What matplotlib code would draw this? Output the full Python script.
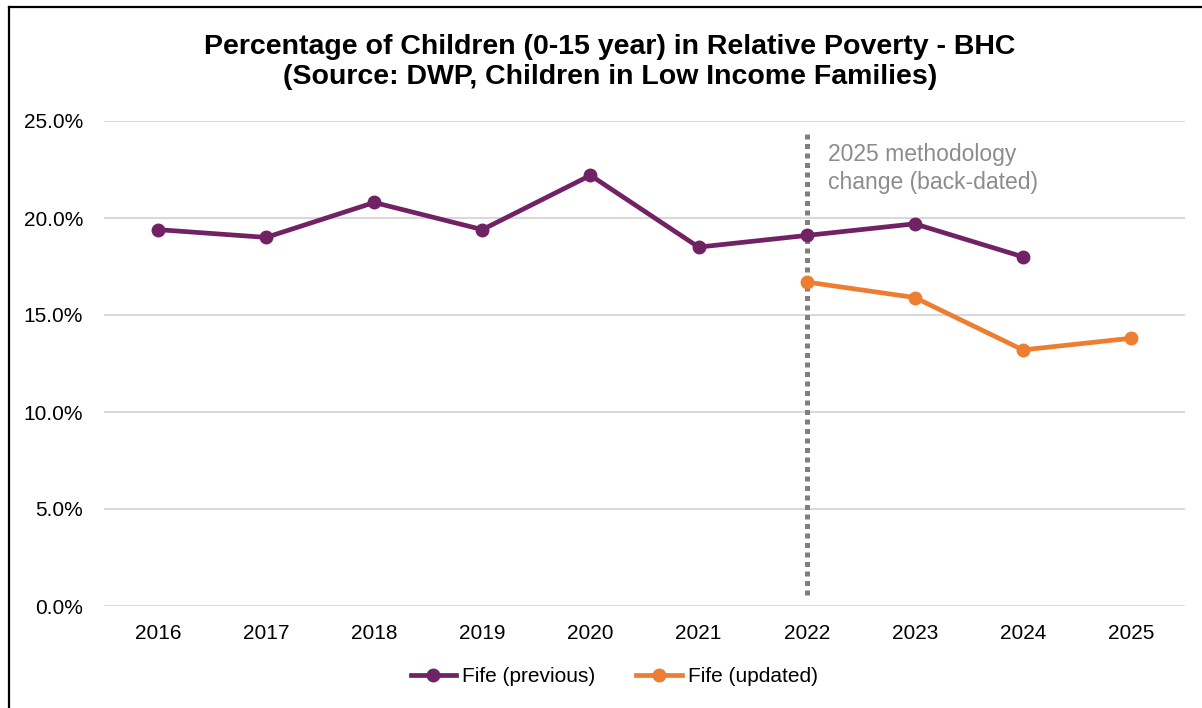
import matplotlib
matplotlib.use('Agg')
import matplotlib.pyplot as plt
from matplotlib.lines import Line2D
from matplotlib.ticker import PercentFormatter

plt.rcParams['font.family'] = ['Liberation Sans', 'DejaVu Sans']

# Data
years = ['2016', '2017', '2018', '2019', '2020', '2021', '2022', '2023', '2024', '2025']
prev_years = years[:9]
prev_vals = [19.4, 19.0, 20.8, 19.4, 22.2, 18.5, 19.1, 19.7, 18.0]
upd_years = years[6:]
upd_vals = [16.7, 15.9, 13.2, 13.8]
change_year = '2022'

purple = '#702265'
orange = '#ED7D31'

fig = plt.figure(figsize=(12.02, 7.08), dpi=100)
ax = fig.add_axes([104 / 1202, 1 - 606 / 708, (1185 - 104) / 1202, (606 - 121) / 708])

xpos = {y: i for i, y in enumerate(years)}

ax.plot([xpos[y] for y in prev_years], prev_vals, color=purple, lw=3.4,
        marker='o', ms=9, label='Fife (previous)', zorder=3)
ax.plot([xpos[y] for y in upd_years], upd_vals, color=orange, lw=3.4,
        marker='o', ms=9, label='Fife (updated)', zorder=3)

# methodology change marker
ax.plot([xpos[change_year]] * 2, [0.57, 24.4], color='#7f7f7f', lw=3.6,
        linestyle=(0, (1.0, 0.9)), dash_capstyle='butt', zorder=2)
ax.text(xpos[change_year] + 0.2, 23.85, '2025 methodology\nchange (back-dated)',
        color='#8c8c8c', fontsize=16.5, va='top', ha='left', linespacing=1.25)

ax.set_xlim(-0.5, 9.5)
ax.set_ylim(0, 25)
ax.set_yticks([0, 5, 10, 15, 20, 25])
ax.yaxis.set_major_formatter(PercentFormatter(decimals=1))
ax.set_xticks(range(len(years)))
ax.set_xticklabels(years)
ax.tick_params(axis='both', length=0, labelsize=15, colors='#000000')
ax.tick_params(axis='y', pad=15)
ax.tick_params(axis='x', pad=13)
ax.grid(axis='y', color='#d9d9d9', lw=1.5)
ax.set_axisbelow(True)
for s in ax.spines.values():
    s.set_visible(False)

fig.text(610 / 1202, 1 - 62 / 708,
         'Percentage of Children (0-15 year) in Relative Poverty - BHC\n(Source: DWP, Children in Low Income Families)',
         ha='center', va='center', fontsize=20.5, fontweight='bold', linespacing=1.25)

fig.legend(loc='center', bbox_to_anchor=(614 / 1202, 1 - 677 / 708), ncol=2, frameon=False,
           fontsize=15, handlelength=2.2, handletextpad=0.25, columnspacing=2.0)

# outer frame (left and top edges)
fig.add_artist(Line2D([9 / 1202, 9 / 1202], [0, 1 - 7 / 708], transform=fig.transFigure, color='black', lw=1.6))
fig.add_artist(Line2D([9 / 1202, 1], [1 - 7 / 708, 1 - 7 / 708], transform=fig.transFigure, color='black', lw=1.6))

fig.savefig('out.png', dpi=100)
